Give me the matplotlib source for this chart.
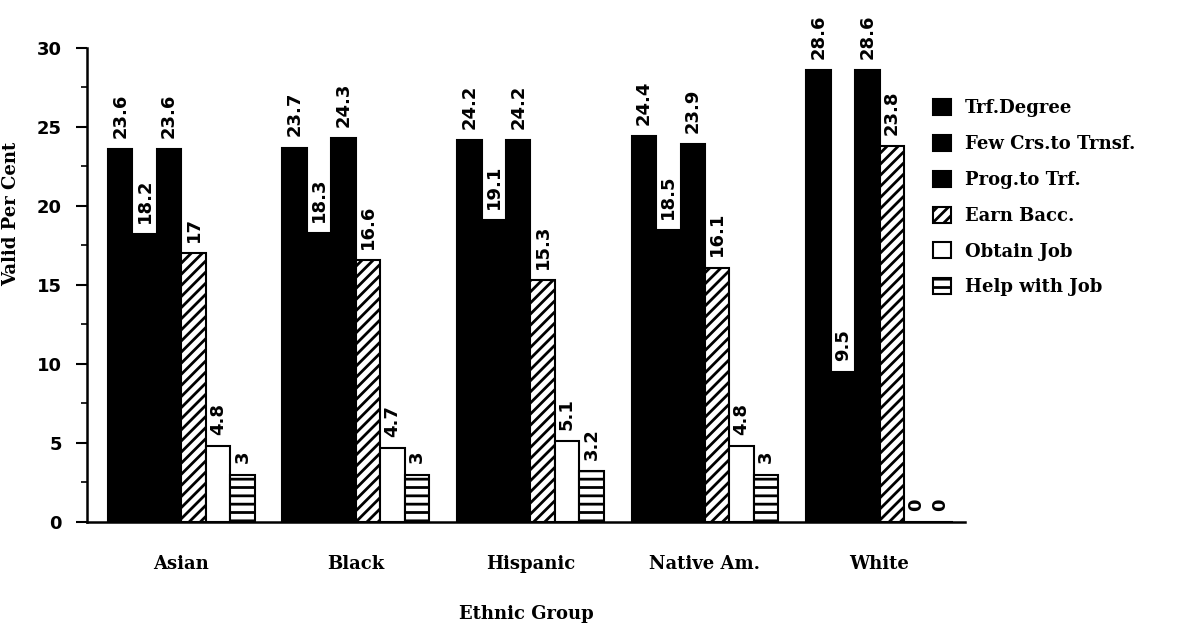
import numpy as np
import matplotlib
matplotlib.use('Agg')
import matplotlib.pyplot as plt

groups = ['Asian', 'Black', 'Hispanic', 'Native Am.', 'White']
series = ['Trf.Degree', 'Few Crs.to Trnsf.', 'Prog.to Trf.', 'Earn Bacc.', 'Obtain Job', 'Help with Job']

trf_degree = [23.6, 23.7, 24.2, 24.4, 28.6]
few_crs = [18.2, 18.3, 19.1, 18.5, 9.5]
prog_trf = [23.6, 24.3, 24.2, 23.9, 28.6]
earn_bacc = [17, 16.6, 15.3, 16.1, 23.8]
obtain_job = [4.8, 4.7, 5.1, 4.8, 0]
help_job = [3, 3, 3.2, 3, 0]

plt.rcParams['hatch.linewidth'] = 2.0

fig = plt.figure(figsize=(11.85, 6.24), dpi=100)
ax = fig.add_axes([0.0734, 0.1635, 0.741, 0.7596])

x = np.arange(len(groups))
w = 0.14
data = [trf_degree, few_crs, prog_trf, earn_bacc, obtain_job, help_job]
hatches = [None, None, None, '///', None, '--']
faces = ['black', 'black', 'black', 'white', 'white', 'white']

for i, vals in enumerate(data):
    bars = ax.bar(x + (i - 2.5) * w, vals, w, color=faces[i], edgecolor='black',
                  linewidth=1.5, hatch=hatches[i], label=series[i])
    ax.bar_label(bars, fmt='%g', rotation=90, padding=8,
                 fontsize=13, fontweight='bold', family='DejaVu Sans')

ax.set_xlim(-0.54, 4.49)
ax.set_ylim(0, 30)
ax.set_yticks(np.arange(0, 31, 5))
ax.set_yticks(np.arange(0, 30.1, 2.5), minor=True)
ax.set_xticks(x)
ax.set_xticklabels(groups, fontsize=13, fontweight='bold', family='DejaVu Serif')
ax.tick_params(axis='x', length=0, pad=24)
ax.tick_params(axis='y', which='major', length=8, width=1.5, labelsize=13, pad=10)
ax.tick_params(axis='y', which='minor', length=4, width=1.2)
for lab in ax.get_yticklabels():
    lab.set_fontweight('bold')

ax.spines['top'].set_visible(False)
ax.spines['right'].set_visible(False)
ax.spines['left'].set_linewidth(1.8)
ax.spines['bottom'].set_linewidth(1.8)

ax.set_ylabel('Valid Per Cent', fontsize=13, fontweight='bold', family='DejaVu Serif')
ax.yaxis.set_label_coords(-0.076, 0.65)
ax.set_xlabel('Ethnic Group', fontsize=13, fontweight='bold', family='DejaVu Serif')
ax.xaxis.set_label_coords(0.5, -0.175)

fig.legend(loc='upper left', bbox_to_anchor=(0.787, 0.841), frameon=False,
           handlelength=1.0, handleheight=1.0, handletextpad=0.8,
           labelspacing=0.97, borderpad=0, borderaxespad=0,
           prop={'family': 'DejaVu Serif', 'weight': 'bold', 'size': 13})

fig.savefig('out.png', dpi=100)
